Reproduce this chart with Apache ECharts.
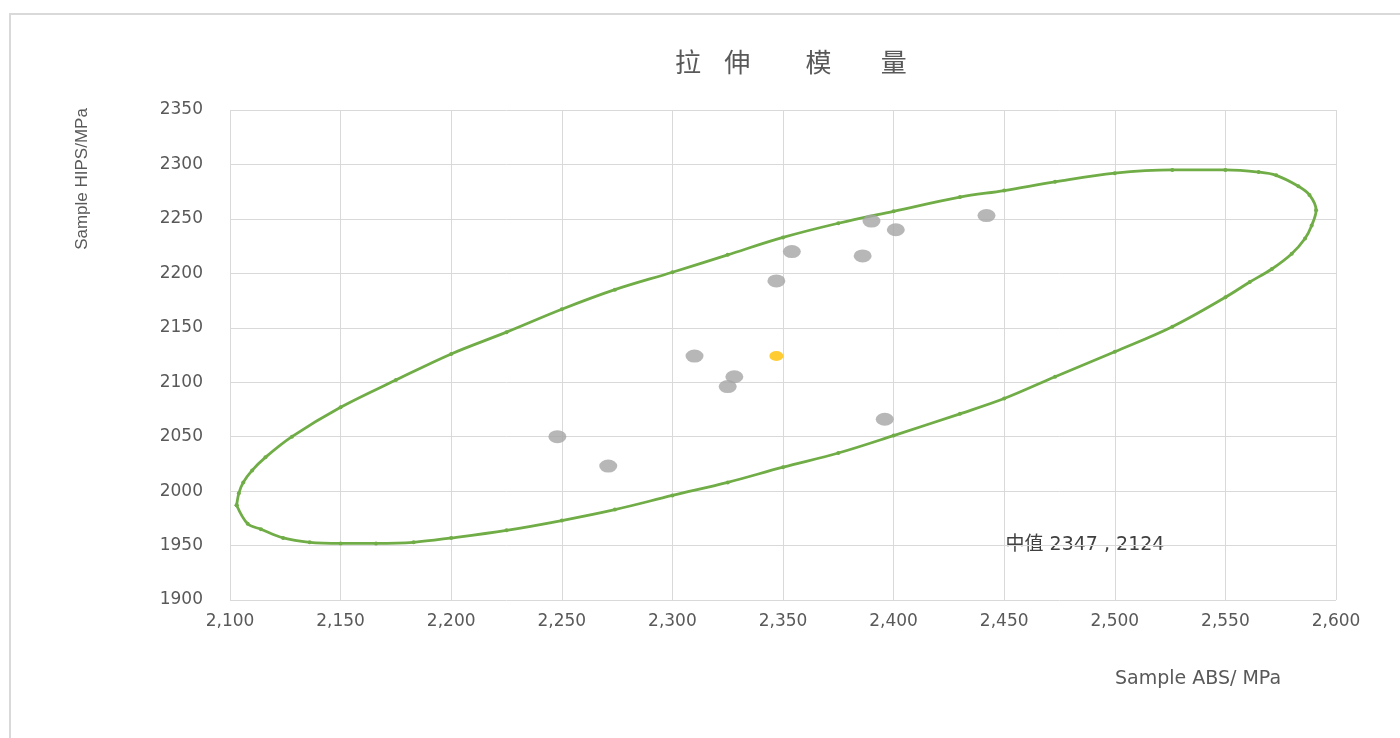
<!DOCTYPE html>
<html>
<head>
<meta charset="utf-8">
<script src="https://cdn.jsdelivr.net/npm/echarts@6/dist/echarts.min.js"></script>
<style>
html,body{margin:0;padding:0;background:#fff;}
#chart{width:1400px;height:738px;}
</style>
</head>
<body>
<div id="chart"></div>
<script>
// ---- data ----
const titleText = '拉    伸\u3000     模\u3000    量';
const xAxisName = 'Sample ABS/ MPa';
const yAxisName = 'Sample HIPS/MPa';
const medianLabel = '中值 2347 , 2124';

const sampleX = [2248, 2271, 2310, 2328, 2325, 2347, 2354, 2386, 2390, 2401, 2442, 2396];
const sampleY = [2050, 2023, 2124, 2105, 2096, 2193, 2220, 2216, 2248, 2240, 2253, 2066];

const medianX = [2347];
const medianY = [2124];

// confidence ellipse outline
const ellipseX = [2103, 2104, 2106, 2110, 2116, 2128, 2150, 2175, 2200, 2225, 2250, 2274, 2300, 2325, 2350, 2375, 2400, 2430, 2450, 2473, 2500, 2526, 2550, 2565, 2573, 2583, 2588, 2591, 2589, 2586, 2580, 2571, 2561, 2550, 2526, 2500, 2473, 2450, 2430, 2400, 2375, 2350, 2325, 2300, 2274, 2250, 2225, 2200, 2183, 2166, 2150, 2136, 2124, 2114, 2108, 2103];
const ellipseY = [1987, 1998, 2008, 2019, 2031, 2050, 2077, 2102, 2126, 2146, 2167, 2185, 2201, 2217, 2233, 2246, 2257, 2270, 2276, 2284, 2292, 2295, 2295, 2293, 2290, 2280, 2272, 2258, 2244, 2232, 2218, 2204, 2192, 2178, 2151, 2128, 2105, 2085, 2071, 2051, 2035, 2022, 2008, 1996, 1983, 1973, 1964, 1957, 1953, 1952, 1952, 1953, 1957, 1965, 1970, 1987];

const xMin = 2100, xMax = 2600, xStep = 50;
const yMin = 1900, yMax = 2350, yStep = 50;

// ---- chart ----
const zip = (a, b) => a.map((v, i) => [v, b[i]]);
const textColor = '#595959';
const chart = echarts.init(document.getElementById('chart'));
chart.setOption({
  animation: false,
  backgroundColor: '#ffffff',
  title: {
    text: titleText,
    left: 670,
    top: 44,
    textStyle: { fontFamily: 'Noto Sans CJK SC', fontSize: 26, fontWeight: 'normal', color: textColor }
  },
  grid: { left: 230, right: 64, top: 110, bottom: 138, containLabel: false },
  xAxis: {
    type: 'value', min: xMin, max: xMax, interval: xStep,
    axisLine: { show: false }, axisTick: { show: false },
    splitLine: { show: true, lineStyle: { color: '#D9D9D9', width: 1 } },
    axisLabel: {
      margin: 13, color: textColor, fontFamily: 'DejaVu Sans', fontSize: 17,
      formatter: v => v.toLocaleString('en-US')
    }
  },
  yAxis: {
    type: 'value', min: yMin, max: yMax, interval: yStep,
    axisLine: { show: false }, axisTick: { show: false },
    splitLine: { show: true, lineStyle: { color: '#D9D9D9', width: 1 } },
    axisLabel: { margin: 27, color: textColor, fontFamily: 'DejaVu Sans', fontSize: 17, formatter: v => String(v) }
  },
  series: [
    {
      type: 'line',
      data: zip(ellipseX, ellipseY),
      smooth: 0.35,
      symbol: 'circle', symbolSize: 4, showSymbol: true, showAllSymbol: true,
      itemStyle: { color: '#70AD47' },
      lineStyle: { color: '#70AD47', width: 2.8 },
      z: 3
    },
    {
      type: 'scatter',
      data: zip(sampleX, sampleY),
      symbol: 'circle', symbolSize: [18, 13],
      itemStyle: { color: '#A5A5A5' },
      z: 4
    },
    {
      type: 'scatter',
      data: zip(medianX, medianY),
      symbol: 'circle', symbolSize: [14, 10],
      itemStyle: { color: '#FFC000' },
      z: 5
    }
  ],
  graphic: [
    {
      type: 'rect', silent: true, z: -10,
      shape: { x: 10, y: 14, width: 1420, height: 760 },
      style: { fill: 'none', stroke: '#D9D9D9', lineWidth: 2 }
    },
    {
      type: 'text', x: 82, y: 179, rotation: Math.PI / 2,
      style: { text: yAxisName, fill: textColor, font: '17px "Liberation Sans Narrow", "Liberation Sans", sans-serif', textAlign: 'center', textVerticalAlign: 'middle' }
    },
    {
      type: 'text', x: 1198, y: 679,
      style: { text: xAxisName, fill: textColor, font: '19px "DejaVu Sans", sans-serif', textAlign: 'center', textVerticalAlign: 'middle' }
    },
    {
      type: 'text', x: 1085, y: 545,
      style: { text: medianLabel, fill: '#404040', font: '19px "DejaVu Sans", "Noto Sans CJK SC", sans-serif', textAlign: 'center', textVerticalAlign: 'middle' }
    }
  ]
});
</script>
</body>
</html>
